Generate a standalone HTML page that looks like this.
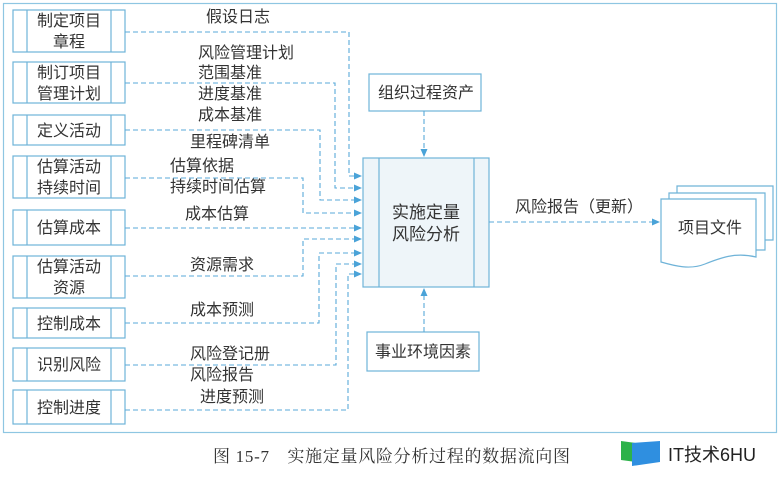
<!DOCTYPE html>
<html><head><meta charset="utf-8"><style>
html,body{margin:0;padding:0;background:#fff;}
svg text{font-family:"Liberation Sans","Noto Sans CJK SC",sans-serif;fill:#333;}
</style></head><body>
<svg width="782" height="472" viewBox="0 0 782 472" xmlns="http://www.w3.org/2000/svg">
<defs><marker id="a" markerWidth="8" markerHeight="8" refX="7" refY="4" orient="auto" markerUnits="userSpaceOnUse"><path d="M0,0.5 L8,4 L0,7.5 z" fill="#4aa3d8"/></marker></defs>
<rect x="3.5" y="3.5" width="773" height="429" fill="#fff" stroke="#8ec6e2" stroke-width="1.2"/>
<g fill="#fff" stroke="#6fb3d8" stroke-width="1.2">
<rect x="13" y="10" width="112" height="42"/><line x1="27" y1="10" x2="27" y2="52"/><line x1="111" y1="10" x2="111" y2="52"/>
<rect x="13" y="62" width="112" height="41"/><line x1="27" y1="62" x2="27" y2="103"/><line x1="111" y1="62" x2="111" y2="103"/>
<rect x="13" y="115" width="112" height="30"/><line x1="27" y1="115" x2="27" y2="145"/><line x1="111" y1="115" x2="111" y2="145"/>
<rect x="13" y="156" width="112" height="42"/><line x1="27" y1="156" x2="27" y2="198"/><line x1="111" y1="156" x2="111" y2="198"/>
<rect x="13" y="210" width="112" height="35"/><line x1="27" y1="210" x2="27" y2="245"/><line x1="111" y1="210" x2="111" y2="245"/>
<rect x="13" y="256" width="112" height="42"/><line x1="27" y1="256" x2="27" y2="298"/><line x1="111" y1="256" x2="111" y2="298"/>
<rect x="13" y="308" width="112" height="30"/><line x1="27" y1="308" x2="27" y2="338"/><line x1="111" y1="308" x2="111" y2="338"/>
<rect x="13" y="348" width="112" height="33"/><line x1="27" y1="348" x2="27" y2="381"/><line x1="111" y1="348" x2="111" y2="381"/>
<rect x="13" y="390" width="112" height="34"/><line x1="27" y1="390" x2="27" y2="424"/><line x1="111" y1="390" x2="111" y2="424"/>
<rect x="363" y="158" width="126" height="129" fill="#eef5f9"/><line x1="379" y1="158" x2="379" y2="287"/><line x1="474" y1="158" x2="474" y2="287"/>
<rect x="369" y="74" width="112" height="37"/>
<rect x="367" y="332" width="112" height="39"/>
<path d="M677,186 H773 V240 H677 Z"/>
<path d="M669,193 H765 V250 H669 Z"/>
<path d="M661,199 H756 V257 C735,252 720,258 705,264 C690,270 675,266 661,262 Z"/>
</g>
<g fill="none" stroke="#5aaad8" stroke-width="1.1" stroke-dasharray="5,3">
<path d="M125,32 H349 V176 H361" marker-end="url(#a)"/>
<path d="M125,83 H335 V188 H361" marker-end="url(#a)"/>
<path d="M125,130 H320 V200 H361" marker-end="url(#a)"/>
<path d="M125,178 H303 V213 H361" marker-end="url(#a)"/>
<path d="M125,228 H361" marker-end="url(#a)"/>
<path d="M125,276 H303 V239 H361" marker-end="url(#a)"/>
<path d="M125,323 H319 V253 H361" marker-end="url(#a)"/>
<path d="M125,365 H336 V264 H361" marker-end="url(#a)"/>
<path d="M125,410 H348 V274 H361" marker-end="url(#a)"/>
<path d="M424,111 V156" marker-end="url(#a)"/>
<path d="M424,332 V289" marker-end="url(#a)"/>
<path d="M489,222 H659" marker-end="url(#a)"/>
</g>
<g font-size="16" text-anchor="middle">
<text x="69" y="26">制定项目</text><text x="69" y="47">章程</text>
<text x="69" y="78">制订项目</text><text x="69" y="99">管理计划</text>
<text x="69" y="136">定义活动</text>
<text x="69" y="172">估算活动</text><text x="69" y="193">持续时间</text>
<text x="69" y="233">估算成本</text>
<text x="69" y="272">估算活动</text><text x="69" y="293">资源</text>
<text x="69" y="329">控制成本</text>
<text x="69" y="370">识别风险</text>
<text x="69" y="413">控制进度</text>
<text x="426" y="98">组织过程资产</text>
<text x="423" y="357">事业环境因素</text>
<text x="426" y="218" font-size="17">实施定量</text><text x="426" y="240" font-size="17">风险分析</text>
<text x="710" y="233">项目文件</text>
</g>
<g font-size="16">
<text x="206" y="22">假设日志</text>
<text x="198" y="58">风险管理计划</text>
<text x="198" y="78">范围基准</text>
<text x="198" y="99">进度基准</text>
<text x="198" y="120">成本基准</text>
<text x="190" y="147">里程碑清单</text>
<text x="170" y="171">估算依据</text>
<text x="170" y="192">持续时间估算</text>
<text x="185" y="219">成本估算</text>
<text x="190" y="270">资源需求</text>
<text x="190" y="315">成本预测</text>
<text x="190" y="359">风险登记册</text>
<text x="190" y="380">风险报告</text>
<text x="200" y="402">进度预测</text>
<text x="515" y="212">风险报告（更新）</text>
</g>
<text x="213" y="462" font-size="17" style="font-family:'Liberation Serif','Noto Serif CJK SC',serif" textLength="357">图 15-7　实施定量风险分析过程的数据流向图</text>
<path d="M621,441 L636,443 L636,462 L621,460 Z" fill="#2db24a"/>
<path d="M632,443 L660,441 L660,462 L632,466 Z" fill="#2f8fe0"/>
<text x="668" y="461" font-size="18" style="fill:#222">IT技术6HU</text>
</svg>
</body></html>
